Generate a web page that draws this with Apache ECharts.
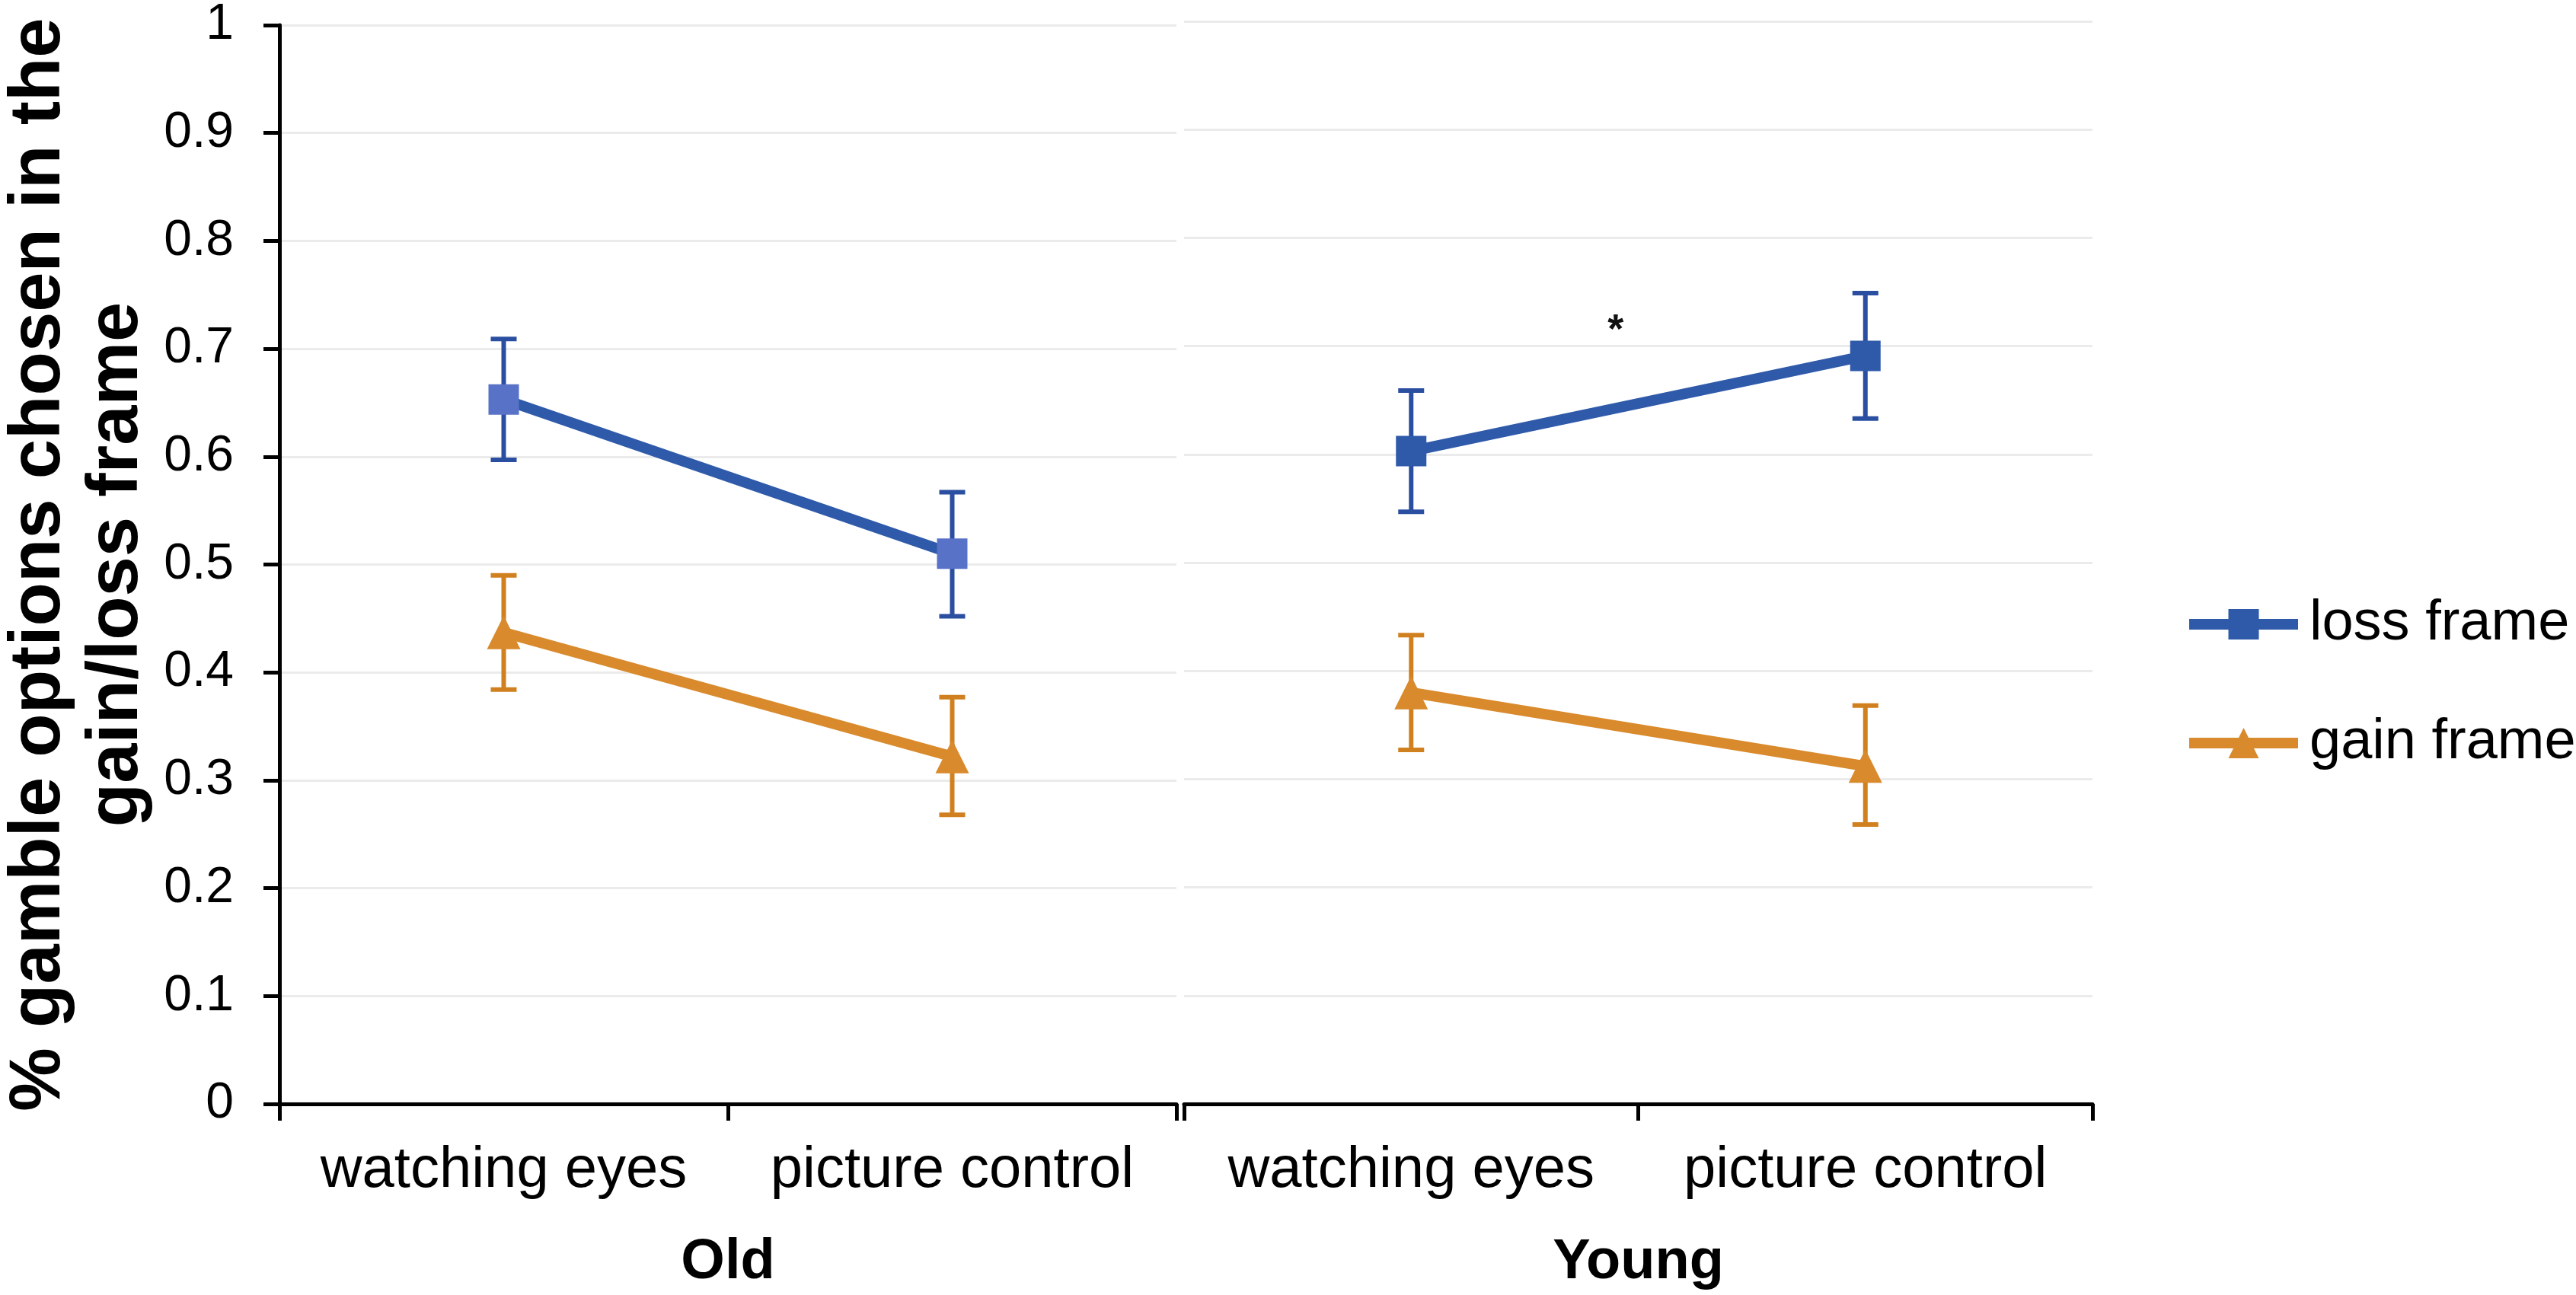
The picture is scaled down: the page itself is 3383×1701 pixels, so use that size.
<!DOCTYPE html>
<html>
<head>
<meta charset="utf-8">
<title>gamble options by frame</title>
<script src="https://cdn.jsdelivr.net/npm/echarts@6/dist/echarts.min.js"></script>
<style>
  html, body { margin: 0; padding: 0; background: #fff; }
  #chart { width: 3383px; height: 1701px; }
</style>
</head>
<body>
<div id="chart"></div>
<script>
// conditions inside each age group
var conditions = ['watching eyes', 'picture control'];
var groups = ['Old', 'Young'];

// means
var lossOld = [0.653, 0.510];
var gainOld = [0.437, 0.322];
var lossYoung = [0.603, 0.691];
var gainYoung = [0.380, 0.312];

// error bar ends [low, high]
var lossOldErr = [[0.597, 0.709], [0.452, 0.567]];
var gainOldErr = [[0.384, 0.490], [0.268, 0.377]];
var lossYoungErr = [[0.547, 0.659], [0.633, 0.749]];
var gainYoungErr = [[0.327, 0.433], [0.258, 0.368]];

// significance mark between the two young conditions
var starValue = 0.722;
var starPos = 0.45;

var yTicks = { min: 0, max: 1, interval: 0.1 };

var FONT = '"Liberation Sans", Arial, sans-serif';
var BLUE = '#2F5AAA';
var BLUE_LIGHT = '#5872C8';
var BLUE_ERR = '#2A4EA0';
var ORANGE = '#D98A2C';
var ORANGE_ERR = '#D0801F';

var myChart = echarts.init(document.getElementById('chart'));

function errData(arr) {
  return arr.map(function (d, i) { return [i, d[0], d[1]]; });
}

function renderErr(params, api) {
  var lo = api.coord([api.value(0), api.value(1)]);
  var hi = api.coord([api.value(0), api.value(2)]);
  var w = 17;
  var style = { stroke: api.visual('color'), lineWidth: 6, fill: null };
  return {
    type: 'group',
    children: [
      { type: 'line', shape: { x1: lo[0], y1: lo[1], x2: hi[0], y2: hi[1] }, style: style },
      { type: 'line', shape: { x1: lo[0] - w, y1: lo[1], x2: lo[0] + w, y2: lo[1] }, style: style },
      { type: 'line', shape: { x1: hi[0] - w, y1: hi[1], x2: hi[0] + w, y2: hi[1] }, style: style }
    ]
  };
}

function xAxisFor(idx, name) {
  return {
    type: 'category',
    gridIndex: idx,
    data: conditions,
    boundaryGap: true,
    name: name,
    nameLocation: 'middle',
    nameGap: 172,
    nameTextStyle: { fontFamily: FONT, fontSize: 74, fontWeight: 'bold', color: '#000' },
    axisLine: { lineStyle: { color: '#000', width: 5 } },
    axisTick: { show: true, interval: 0, length: 22, lineStyle: { color: '#000', width: 5 } },
    axisLabel: { interval: 0, margin: 50, fontFamily: FONT, fontSize: 76, color: '#000' },
    splitLine: { show: false }
  };
}

function yAxisFor(idx, visible) {
  return {
    type: 'value',
    gridIndex: idx,
    min: yTicks.min,
    max: yTicks.max,
    interval: yTicks.interval,
    name: visible ? '% gamble options chosen in the\ngain/loss frame' : '',
    nameLocation: 'middle',
    nameGap: 162,
    nameTextStyle: { fontFamily: FONT, fontSize: 94, fontWeight: 'bold', color: '#000', lineHeight: 102 },
    axisLine: { show: visible, lineStyle: { color: '#000', width: 5 } },
    axisTick: { show: visible, length: 21, lineStyle: { color: '#000', width: 5 } },
    axisLabel: { show: visible, margin: 60, fontFamily: FONT, fontSize: 66, color: '#000' },
    splitLine: { show: true, lineStyle: { color: '#EBEBEB', width: 3 } }
  };
}

function lineSeries(name, idx, data, symbol, lineColor, markerColor) {
  return {
    name: name,
    type: 'line',
    xAxisIndex: idx,
    yAxisIndex: idx,
    data: data,
    symbol: symbol,
    symbolSize: symbol === 'rect' ? 40 : 44,
    z: 3,
    lineStyle: { color: lineColor, width: 14 },
    itemStyle: { color: markerColor },
    animation: false
  };
}

function errSeries(idx, data, color) {
  return {
    type: 'custom',
    xAxisIndex: idx,
    yAxisIndex: idx,
    data: errData(data),
    renderItem: renderErr,
    itemStyle: { color: color },
    encode: { x: 0, y: [1, 2] },
    z: 2,
    silent: true,
    animation: false
  };
}

option = {
  backgroundColor: '#fff',
  animation: false,
  grid: [
    { left: 367, width: 1178, top: 28, bottom: 251 },
    { left: 1555, width: 1193, top: 28, bottom: 251 }
  ],
  xAxis: [xAxisFor(0, groups[0]), xAxisFor(1, groups[1])],
  yAxis: [yAxisFor(0, true), yAxisFor(1, false)],
  legend: {
    orient: 'vertical',
    left: 2863,
    top: 778,
    itemWidth: 143,
    itemHeight: 50,
    itemGap: 82,
    lineStyle: { width: 14 },
    textStyle: { fontFamily: FONT, fontSize: 74, color: '#000', padding: [0, 0, 0, 10] },
    data: [
      { name: 'loss frame', itemStyle: { color: BLUE }, lineStyle: { color: BLUE, width: 14 } },
      { name: 'gain frame', itemStyle: { color: ORANGE }, lineStyle: { color: ORANGE, width: 14 } }
    ]
  },
  series: [
    errSeries(0, lossOldErr, BLUE_ERR),
    errSeries(0, gainOldErr, ORANGE_ERR),
    errSeries(1, lossYoungErr, BLUE_ERR),
    errSeries(1, gainYoungErr, ORANGE_ERR),
    lineSeries('loss frame', 0, lossOld, 'rect', BLUE, BLUE_LIGHT),
    lineSeries('gain frame', 0, gainOld, 'triangle', ORANGE, ORANGE),
    lineSeries('loss frame', 1, lossYoung, 'rect', BLUE, BLUE),
    lineSeries('gain frame', 1, gainYoung, 'triangle', ORANGE, ORANGE)
  ]
};
myChart.setOption(option, true);

// place the star between the two young conditions
var p0 = myChart.convertToPixel({ xAxisIndex: 1, yAxisIndex: 1 }, [0, starValue]);
var p1 = myChart.convertToPixel({ xAxisIndex: 1, yAxisIndex: 1 }, [1, starValue]);
myChart.setOption({
  graphic: [{
    type: 'text',
    x: p0[0] + starPos * (p1[0] - p0[0]),
    y: p0[1] + 12,
    z: 10,
    style: {
      text: '*',
      fontFamily: FONT,
      fontSize: 54,
      fontWeight: 'bold',
      fill: '#111',
      align: 'center',
      verticalAlign: 'middle'
    }
  }]
});

window.addEventListener('resize', function () {
  myChart.resize();
});
</script>
</body>
</html>
